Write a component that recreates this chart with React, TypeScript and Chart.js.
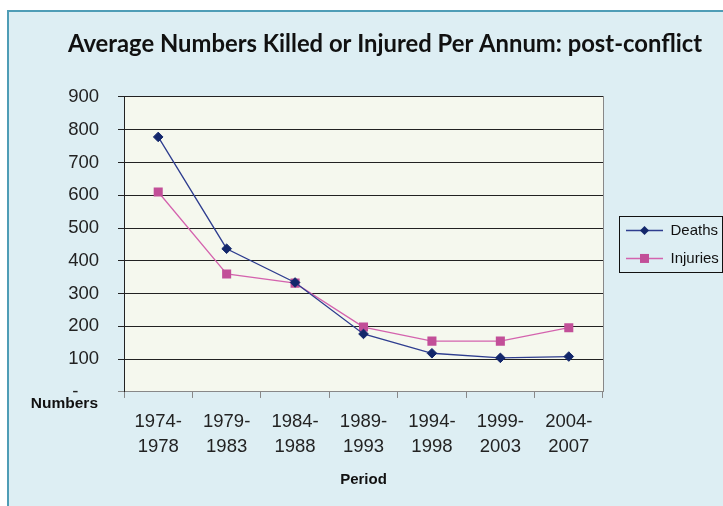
import React, { useEffect, useRef } from 'react';
import { Chart, registerables } from 'chart.js';

Chart.register(...registerables);

const chartTitle = 'Average Numbers Killed or Injured Per Annum: post-conflict';
const xTitle = 'Period';
const yTitle = 'Numbers';
const periods: string[][] = [
  ['1974-', '1978'],
  ['1979-', '1983'],
  ['1984-', '1988'],
  ['1989-', '1993'],
  ['1994-', '1998'],
  ['1999-', '2003'],
  ['2004-', '2007'],
];
const deaths = [778, 437, 334, 177, 118, 104, 108];
const injuries = [610, 360, 332, 198, 155, 155, 196];
const yMin = 0;
const yMax = 900;
const yStep = 100;

const deathsLine = '#2E3D8F';
const deathsMarker = '#13276B';
const injuriesLine = '#D463AE';
const injuriesMarker = '#C24F98';
const plotBg = '#F5F8EE';
const axisFont = "'Liberation Sans', Arial, sans-serif";

const LEGEND_BOX_W = 37;

function drawMarker(ctx: CanvasRenderingContext2D, style: string, x: number, y: number, color: string) {
  ctx.save();
  ctx.fillStyle = color;
  ctx.beginPath();
  if (style === 'rectRot') {
    const r = 4.5;
    ctx.moveTo(x, y - r);
    ctx.lineTo(x + r, y);
    ctx.lineTo(x, y + r);
    ctx.lineTo(x - r, y);
    ctx.closePath();
  } else {
    const h = 4.5;
    ctx.rect(x - h, y - h, 2 * h, 2 * h);
  }
  ctx.fill();
  ctx.restore();
}

const plotBackground = {
  id: 'plotBackground',
  beforeDraw(chart: any) {
    const { ctx, chartArea } = chart;
    ctx.save();
    ctx.fillStyle = plotBg;
    ctx.fillRect(chartArea.left, chartArea.top, chartArea.right - chartArea.left, chartArea.bottom - chartArea.top);
    ctx.restore();
  },
};

const extras = {
  id: 'extras',
  afterDraw(chart: any) {
    const { ctx } = chart;
    ctx.save();
    ctx.font = `bold 15.5px ${axisFont}`;
    ctx.fillStyle = '#111';
    ctx.textAlign = 'right';
    ctx.textBaseline = 'middle';
    ctx.fillText(yTitle, 98, 404);
    ctx.restore();

    const legend = chart.legend;
    if (legend && legend.legendHitBoxes && legend.legendHitBoxes.length) {
      const hbs = legend.legendHitBoxes;
      const styles = ['rectRot', 'rect'];
      const colors = [deathsMarker, injuriesMarker];
      hbs.forEach((hb: any, i: number) => {
        drawMarker(ctx, styles[i], hb.left + LEGEND_BOX_W / 2, hb.top + 7.5, colors[i]);
      });
      const first = hbs[0];
      const last = hbs[hbs.length - 1];
      ctx.save();
      ctx.strokeStyle = '#111';
      ctx.lineWidth = 1;
      const x0 = Math.round(legend.left + 6) + 0.5;
      const y0 = Math.round(first.top - 7) + 0.5;
      const x1 = Math.round(legend.left + 109) + 0.5;
      const y1 = Math.round(last.top + 21) + 0.5;
      ctx.strokeRect(x0, y0, x1 - x0, y1 - y0);
      ctx.restore();
    }
  },
};

export default function App() {
  const canvasRef = useRef<HTMLCanvasElement | null>(null);

  useEffect(() => {
    if (!canvasRef.current) return;
    Chart.defaults.font.family = axisFont;
    Chart.defaults.color = '#222';
    const chart = new Chart(canvasRef.current, {
      type: 'line',
      data: {
        labels: periods,
        datasets: [
          {
            label: 'Deaths',
            data: deaths,
            borderColor: deathsLine,
            backgroundColor: deathsLine,
            borderWidth: 1.3,
            pointStyle: 'rectRot',
            pointRadius: 4.8,
            pointHoverRadius: 4.8,
            pointBackgroundColor: deathsMarker,
            pointBorderColor: deathsMarker,
            pointBorderWidth: 1,
            tension: 0,
          },
          {
            label: 'Injuries',
            data: injuries,
            borderColor: injuriesLine,
            backgroundColor: injuriesLine,
            borderWidth: 1.3,
            pointStyle: 'rect',
            pointRadius: 6.4,
            pointHoverRadius: 6.4,
            pointBackgroundColor: injuriesMarker,
            pointBorderColor: injuriesMarker,
            pointBorderWidth: 0,
            tension: 0,
          },
        ],
      },
      options: {
        responsive: false,
        animation: false,
        events: [],
        layout: { padding: { left: 47, right: 0, top: 0, bottom: 17 } },
        plugins: {
          title: {
            display: true,
            text: chartTitle,
            font: { family: 'Lato', weight: 'bold', size: 23.8, lineHeight: 1.2 },
            color: '#111',
            padding: { top: 29.7, bottom: 38.7 },
          },
          legend: {
            display: true,
            position: 'right',
            fullSize: false,
            maxWidth: 110,
            labels: {
              boxWidth: LEGEND_BOX_W,
              boxHeight: 1.5,
              padding: 13,
              color: '#111',
              font: { size: 15, family: axisFont },
              generateLabels: (c: any) =>
                c.data.datasets.map((ds: any, i: number) => ({
                  text: ds.label,
                  fillStyle: ds.borderColor,
                  strokeStyle: ds.borderColor,
                  lineWidth: 0,
                  hidden: false,
                  datasetIndex: i,
                  fontColor: '#111',
                })),
            },
          },
          tooltip: { enabled: false },
        },
        scales: {
          x: {
            type: 'category',
            offset: true,
            grid: {
              offset: true,
              drawOnChartArea: false,
              drawTicks: true,
              tickLength: 6,
              color: '#888',
            },
            border: { display: true, color: '#888', width: 1 },
            ticks: {
              autoSkip: false,
              maxRotation: 0,
              minRotation: 0,
              padding: 11,
              color: '#222',
              font: { size: 18.5, lineHeight: 1.38, family: axisFont },
            },
            title: {
              display: true,
              text: xTitle,
              color: '#111',
              font: { size: 15, weight: 'bold', lineHeight: 1.2, family: axisFont },
              padding: { top: 0, bottom: 0 },
            },
          },
          y: {
            type: 'linear',
            position: 'left',
            min: yMin,
            max: yMax,
            ticks: {
              stepSize: yStep,
              padding: 19,
              color: '#222',
              font: { size: 18.5, family: axisFont },
              callback: (v: any) => (Number(v) === 0 ? '-    ' : String(v)),
            },
            grid: {
              drawTicks: true,
              tickLength: 6,
              lineWidth: 1,
              color: (ctx: any) => (ctx.tick && ctx.tick.value === 0 ? '#888' : '#222'),
            },
            border: { display: true, color: '#222', width: 1 },
            afterFit: (scale: any) => {
              scale.width = 77;
            },
          },
          yRight: {
            type: 'linear',
            position: 'right',
            display: true,
            ticks: { display: false },
            grid: { display: true, drawOnChartArea: false, drawTicks: false },
            border: { display: true, color: '#888', width: 1 },
            afterFit: (scale: any) => {
              scale.width = 10;
            },
          },
        },
      },
      plugins: [plotBackground, extras],
    } as any);
    return () => chart.destroy();
  }, []);

  return (
    <>
      <div
        style={{
          position: 'fixed',
          left: 7,
          top: 10,
          width: 800,
          height: 600,
          background: '#DDEEF3',
          border: '2px solid #4F9DB6',
        }}
      />
      <canvas
        ref={canvasRef}
        width={723}
        height={506}
        style={{ position: 'fixed', left: 0, top: 0, width: 723, height: 506 }}
      />
    </>
  );
}
